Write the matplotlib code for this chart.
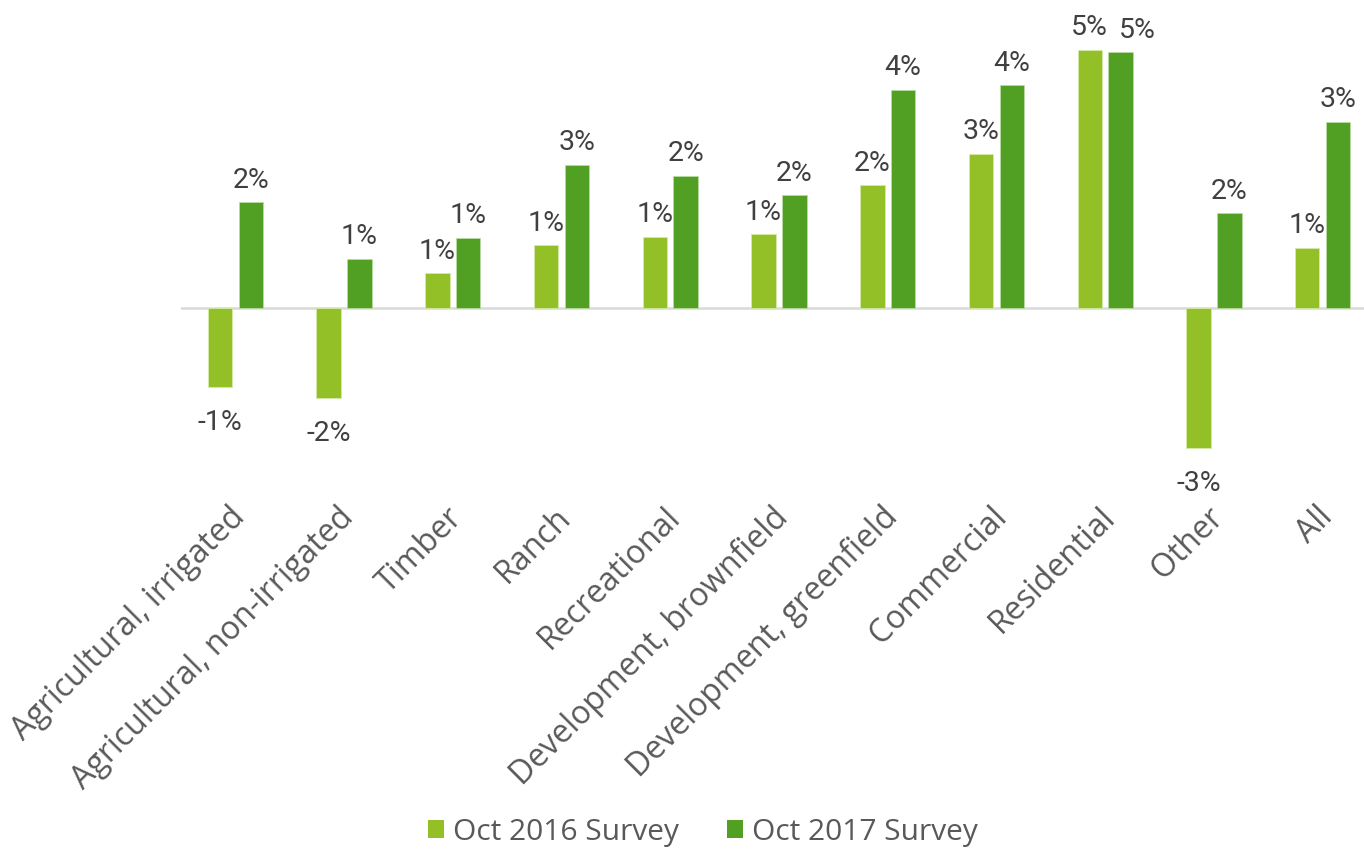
import matplotlib
matplotlib.use("Agg")
import matplotlib.pyplot as plt
import matplotlib.transforms as mtransforms
from matplotlib.patches import Patch
import numpy as np

# Land value change by property type, two survey waves (fraction of value)
categories = [
    "Agricultural, irrigated", "Agricultural, non-irrigated", "Timber", "Ranch",
    "Recreational", "Development, brownfield", "Development, greenfield",
    "Commercial", "Residential", "Other", "All",
]
oct_2016 = [-0.0145, -0.0165, 0.0062, 0.0113, 0.0129, 0.0133, 0.0222, 0.0280, 0.0469, -0.0256, 0.0109]
oct_2017 = [0.0191, 0.0089, 0.0127, 0.0260, 0.0240, 0.0204, 0.0396, 0.0404, 0.0464, 0.0171, 0.0338]
series_names = ["Oct 2016 Survey", "Oct 2017 Survey"]

LIGHT = "#93C026"
DARK = "#52A023"
VALUE_COLOR = "#404040"
TEXT_COLOR = "#595959"
MAIN_FONT = ["Open Sans", "DejaVu Sans"]
VALUE_FONT = ["Roboto", "DejaVu Sans"]

W, H = 1364, 853
fig = plt.figure(figsize=(W / 100, H / 100), dpi=100)
ax = fig.add_axes([181 / W, (H - 500) / H, 1196 / W, 480 / H])

x = np.arange(len(categories))
bar_w = 0.225
off = 0.142

b1 = ax.bar(x - off, oct_2016, width=bar_w, color=LIGHT, edgecolor="#d4eaa8", linewidth=0.6, zorder=3)
b2 = ax.bar(x + off, oct_2017, width=bar_w, color=DARK, edgecolor="#b9dca0", linewidth=0.6, zorder=3)

ax.axhline(0, color="#d9d9d9", linewidth=1.8, zorder=2)

ax.set_xlim(-0.5, len(categories) - 0.5)
ax.set_ylim(-0.0348, 0.05245)


def put_label(cx, v, dx=0):
    if v >= 0:
        ax.annotate(f"{v:.0%}", (cx, v), xytext=(dx, 11), textcoords="offset points",
                    ha="center", va="baseline", fontsize=20.5, color=VALUE_COLOR,
                    family=VALUE_FONT, annotation_clip=False)
    else:
        ax.annotate(f"{v:.0%}", (cx, v), xytext=(dx, -15), textcoords="offset points",
                    ha="center", va="top", fontsize=20.5, color=VALUE_COLOR,
                    family=VALUE_FONT, annotation_clip=False)


# data labels; when both bars of a group are nearly level, nudge the second label aside
for r1, r2, v1, v2 in zip(b1, b2, oct_2016, oct_2017):
    put_label(r1.get_x() + r1.get_width() / 2, v1)
    nudge = 12 if (v1 > 0 and v2 > 0 and abs(v1 - v2) < 0.004) else 0
    put_label(r2.get_x() + r2.get_width() / 2, v2, dx=nudge)

# category labels, rotated
ax.set_xticks(x)
ax.set_xticklabels(categories, rotation=45, ha="right", va="center",
                   rotation_mode="anchor", fontsize=23, color=TEXT_COLOR, family=MAIN_FONT)
ax.tick_params(axis="x", length=0, pad=9)
shift = mtransforms.ScaledTranslation(0.05, 0, fig.dpi_scale_trans)
for lbl in ax.get_xticklabels():
    lbl.set_transform(lbl.get_transform() + shift)

ax.set_yticks([])
for s in ax.spines.values():
    s.set_visible(False)

handles = [Patch(facecolor=LIGHT, edgecolor="none"), Patch(facecolor=DARK, edgecolor="none")]
fig.legend(handles, series_names, loc="center", bbox_to_anchor=(703 / W, (H - 833) / H),
           ncol=2, frameon=False, handlelength=0.55, handleheight=0.55, handletextpad=0.3,
           columnspacing=1.6, prop={"family": MAIN_FONT, "size": 21.5}, labelcolor=TEXT_COLOR)

fig.savefig("out.png", dpi=100)
